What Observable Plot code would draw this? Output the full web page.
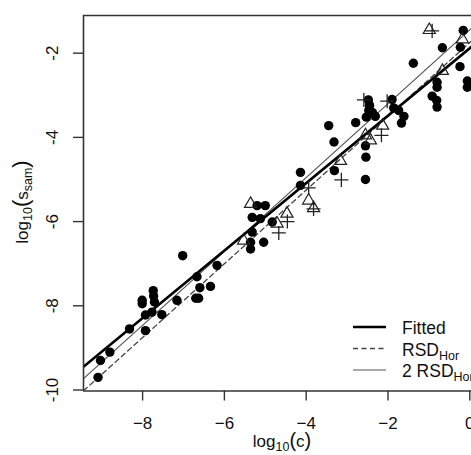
<!DOCTYPE html>
<html>
<head>
<meta charset="utf-8">
<script src="https://cdn.jsdelivr.net/npm/d3@7"></script>
<script src="https://cdn.jsdelivr.net/npm/@observablehq/plot@0.6"></script>
<style>
  html, body { margin: 0; padding: 0; background: #fff; overflow: hidden; }
  #chart svg { display: block; }
</style>
</head>
<body>
<div id="chart"></div>
<script>
// ---- data ----
const xTicks = [-8, -6, -4, -2, 0];
const yTicks = [-10, -8, -6, -4, -2];

const circleX = [-9.09,-9.03,-8.80,-8.32,-8.01,-8.01,-7.93,-7.93,-7.74,-7.73,-7.71,-7.77,-7.53,-7.16,-7.02,-6.70,-6.63,-6.67,-6.60,-6.34,-6.18,-5.20,-5.00,-5.32,-5.12,-4.83,-5.32,-5.36,-5.36,-5.04,-4.14,-4.14,-3.45,-3.32,-3.31,-2.79,-2.55,-2.54,-2.55,-2.48,-2.45,-2.47,-2.38,-2.53,-2.31,-1.90,-1.86,-1.74,-1.61,-1.67,-1.38,-0.92,-0.81,-0.80,-0.80,-0.80,-0.67,-0.23,-0.16,-0.24,-0.06,-0.06];
const circleY = [-9.70,-9.30,-9.10,-8.55,-7.87,-7.95,-8.59,-8.22,-7.64,-7.77,-7.91,-8.15,-8.21,-7.87,-6.81,-7.82,-7.82,-7.31,-7.57,-7.54,-7.04,-5.62,-5.62,-5.90,-5.93,-6.01,-6.25,-6.49,-6.65,-6.49,-4.83,-5.14,-3.72,-4.11,-4.79,-3.65,-4.20,-4.47,-5.00,-3.11,-3.24,-3.36,-3.41,-3.52,-3.50,-3.10,-3.30,-3.36,-3.50,-3.66,-2.24,-3.02,-3.12,-3.28,-2.69,-2.81,-1.87,-1.86,-1.46,-2.32,-2.66,-2.81];

const triX = [-5.53,-5.36,-4.71,-4.47,-3.94,-3.82,-3.16,-2.55,-2.43,-2.13,-0.99,-0.67,-0.18];
const triY = [-6.45,-5.58,-6.05,-5.81,-5.50,-5.68,-4.56,-3.95,-4.07,-3.72,-1.45,-2.42,-1.67];

const plusX = [-4.67,-4.46,-3.94,-3.82,-3.14,-2.59,-2.16,-2.02,-0.92];
const plusY = [-6.27,-6.00,-5.20,-5.70,-5.01,-3.11,-3.95,-3.14,-1.47];

// straight lines: end points read at the two edges of the panel
const lineX  = [-9.445, 0.042];
const fitY   = [-9.45, -1.85];
const horY   = [-10.02, -1.71];
const hor2Y  = [-9.73, -1.41];

const legendLabels = ["Fitted", "RSD", "2 RSD"];
const legendSub = ["", "Hor", "Hor"];

// ---- tables for Plot ----
const circles = circleX.map((x, i) => ({x, y: circleY[i]}));
const tris = triX.map((x, i) => ({x, y: triY[i]}));
const pluses = plusX.map((x, i) => ({x, y: plusY[i]}));
const fitLine = lineX.map((x, i) => ({x, y: fitY[i]}));
const horLine = lineX.map((x, i) => ({x, y: horY[i]}));
const hor2Line = lineX.map((x, i) => ({x, y: hor2Y[i]}));

const xDomain = [-9.445, 0.042];
const yDomain = [-10.024, -1.105];
const FONT = "Liberation Sans, Arial, Helvetica, sans-serif";

const chart = Plot.plot({
  width: 471,
  height: 455,
  marginLeft: 83,
  marginRight: 0,
  marginTop: 15,
  marginBottom: 64.5,
  x: {domain: xDomain},
  y: {domain: yDomain},
  style: {fontFamily: FONT, fontSize: "17px", color: "#111", background: "#fff"},
  marks: [
    Plot.line(hor2Line, {x: "x", y: "y", stroke: "#555", strokeWidth: 1.2, clip: true}),
    Plot.line(horLine, {x: "x", y: "y", stroke: "#444", strokeWidth: 1.3, strokeDasharray: "5,3.5", clip: true}),
    Plot.line(fitLine, {x: "x", y: "y", stroke: "#000", strokeWidth: 2.6, clip: true}),
    Plot.dot(circles, {x: "x", y: "y", r: 4.7, fill: "#000", stroke: "none", clip: true}),
    Plot.dot(tris, {x: "x", y: "y", symbol: "triangle", r: 4.5, fill: "none", stroke: "#222", strokeWidth: 1.2, clip: true}),
    Plot.dot(pluses, {x: "x", y: "y", symbol: "plus", r: 4.6, fill: "none", stroke: "#222", strokeWidth: 1.3, clip: true}),
    Plot.axisX({ticks: xTicks, tickSize: 10, tickPadding: 16, label: null, stroke: "#333", strokeWidth: 1.4, fill: "#111"}),
    Plot.axisY({ticks: yTicks, tickSize: 10, tickFormat: () => "", label: null, stroke: "#333", strokeWidth: 1.4}),
    Plot.text(yTicks, {y: d => d, text: d => String(d), frameAnchor: "left", dx: -30.5, rotate: -90, textAnchor: "middle", lineAnchor: "middle", fill: "#111", fontSize: 17}),
    Plot.ruleX([xDomain[0]], {stroke: "#333", strokeWidth: 1.6}),
    Plot.ruleY([yDomain[0], yDomain[1]], {stroke: "#333", strokeWidth: 1.6})
  ]
});

document.getElementById("chart").appendChild(chart);

// ---- axis titles and legend with subscripts ----
const svg = d3.select(chart);
const g = svg.append("g").attr("font-family", FONT).attr("fill", "#111");

// x title: log10(c)
const xt = g.append("text").attr("x", 282).attr("y", 447).attr("text-anchor", "middle").attr("font-size", 17);
xt.append("tspan").text("log");
xt.append("tspan").attr("font-size", 12.5).attr("dy", 4).text("10");
xt.append("tspan").attr("font-size", 20).attr("dy", -4).text("(");
xt.append("tspan").text("c");
xt.append("tspan").attr("font-size", 20).text(")");

// y title: log10(s_sam)
const yt = g.append("text").attr("transform", "translate(28,202) rotate(-90)").attr("text-anchor", "middle").attr("font-size", 17);
yt.append("tspan").text("log");
yt.append("tspan").attr("font-size", 12.5).attr("dy", 4).text("10");
yt.append("tspan").attr("font-size", 22).attr("dy", -4).text("(");
yt.append("tspan").text("s");
yt.append("tspan").attr("font-size", 12.5).attr("dy", 4).text("sam");
yt.append("tspan").attr("font-size", 22).attr("dy", -4).text(")");

// legend
const legY = [327, 348.5, 370];
const legStyles = [
  {stroke: "#000", width: 2.6, dash: null},
  {stroke: "#444", width: 1.3, dash: "5,3.5"},
  {stroke: "#555", width: 1.2, dash: null}
];
legendLabels.forEach((lab, i) => {
  const s = legStyles[i];
  const ln = g.append("line").attr("x1", 353).attr("x2", 386).attr("y1", legY[i]).attr("y2", legY[i])
    .attr("stroke", s.stroke).attr("stroke-width", s.width);
  if (s.dash) ln.attr("stroke-dasharray", s.dash);
  const t = g.append("text").attr("x", 402).attr("y", legY[i] + 7).attr("font-size", 17.5).attr("text-anchor", "start");
  t.append("tspan").text(lab);
  if (legendSub[i]) t.append("tspan").attr("font-size", 12.5).attr("dy", 4).text(legendSub[i]);
});
</script>
</body>
</html>
